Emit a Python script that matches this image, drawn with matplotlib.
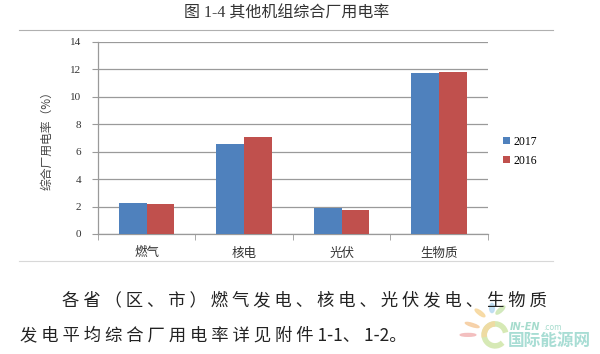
import matplotlib
matplotlib.use("Agg")
import matplotlib.pyplot as plt
import numpy as np
from matplotlib.lines import Line2D
from matplotlib.patches import Arc, Ellipse

categories = ["燃气", "核电", "光伏", "生物质"]
series_names = ["2017", "2016"]
values_2017 = [2.24, 6.58, 1.87, 11.75]
values_2016 = [2.16, 7.09, 1.73, 11.80]
yticks = [0, 2, 4, 6, 8, 10, 12, 14]

FAM = ["Liberation Serif", "Noto Sans CJK SC"]
CJK = ["Noto Sans CJK SC", "Liberation Serif"]
plt.rcParams["font.family"] = FAM

fig = plt.figure(figsize=(6.0, 3.54), dpi=100)
fig.patch.set_facecolor("white")

ax = fig.add_axes([0.163, 0.339, 0.650, 0.543])
x = np.arange(len(categories))
w = 0.286
ax.bar(x - w / 2, values_2017, w, color="#4F81BD", label=series_names[0], zorder=3)
ax.bar(x + w / 2, values_2016, w, color="#C0504D", label=series_names[1], zorder=3)

ax.set_xlim(-0.5, len(categories) - 0.5)
ax.set_ylim(0, 14)
ax.set_yticks(yticks)
ax.set_yticklabels([str(v) for v in yticks], fontsize=8, color="#333333", family=FAM)
ax.yaxis.grid(True, color="#9a9a9a", linewidth=0.9, zorder=0)
ax.set_axisbelow(True)

ax.set_xticks(x)
ax.set_xticklabels(categories, fontsize=9, color="#333333", family=CJK)
ax.tick_params(axis="x", length=0, pad=9)
ax.set_xticks(np.arange(-0.5, len(categories) + 0.5, 1), minor=True)
ax.tick_params(axis="x", which="minor", length=4, color="#9a9a9a", direction="out")
ax.tick_params(axis="y", length=4, color="#9a9a9a", direction="out", pad=8)

for s in ["top", "right"]:
    ax.spines[s].set_visible(False)
for s in ["left", "bottom"]:
    ax.spines[s].set_color("#9a9a9a")
    ax.spines[s].set_linewidth(0.9)

ax.set_ylabel("综合厂用电率（%）", fontsize=8.5, color="#444444", family=CJK, labelpad=12)

leg = fig.legend(loc="upper left", bbox_to_anchor=(0.83, 0.63), frameon=False,
                 prop={"family": FAM, "size": 8.5}, handlelength=0.6, handleheight=0.6,
                 handletextpad=0.3, labelspacing=0.6, borderaxespad=0)

fig.text(0.478, 0.962, "图 1-4 其他机组综合厂用电率", ha="center", va="center",
         fontsize=11.5, color="#333333", family=FAM)

fig.add_artist(Line2D([0.032, 0.922], [0.915, 0.915], color="#b0b0b0", linewidth=0.8))
fig.add_artist(Line2D([0.032, 0.922], [0.262, 0.262], color="#d8d8d8", linewidth=0.8))

fig.text(0.103, 0.153, "各 省 （ 区 、 市 ） 燃 气 发 电 、 核 电 、 光 伏 发 电 、 生 物 质",
         ha="left", va="center", fontsize=12.5, color="#222222", family=CJK)
fig.text(0.033, 0.054, "发 电 平 均 综 合 厂 用 电 率 详 见 附 件 1-1、 1-2。",
         ha="left", va="center", fontsize=12.5, color="#222222", family=CJK)

# watermark logo
fig.add_artist(Arc((0.825, 0.054), 0.036, 0.062, theta1=20, theta2=300,
                   transform=fig.transFigure, color="#cfe6a8", linewidth=4, alpha=0.85))
fig.add_artist(Arc((0.825, 0.054), 0.036, 0.062, theta1=90, theta2=200,
                   transform=fig.transFigure, color="#f3d9a0", linewidth=4, alpha=0.85))
for (cx, cy, col, ang) in [(0.8, 0.116, "#f7d9a0", 35), (0.82, 0.13, "#bcdcf2", 0),
                           (0.834, 0.124, "#cfe8b8", -30), (0.787, 0.082, "#f6cfa4", 60),
                           (0.78, 0.054, "#f3bcbc", 90)]:
    fig.add_artist(Ellipse((cx, cy), 0.008, 0.026, angle=ang, transform=fig.transFigure,
                           color=col, alpha=0.9))
fig.text(0.85, 0.076, "IN-EN", ha="left", va="center", fontsize=7,
         color="#a6dccd", family=["DejaVu Sans"], weight="bold", style="italic")
fig.text(0.905, 0.074, ".com", ha="left", va="center", fontsize=5.5,
         color="#a6dccd", family=["DejaVu Sans"])
fig.text(0.846, 0.038, "国际能源网", ha="left", va="center", fontsize=12,
         color="#a8ddd4", family=CJK, weight="bold")

fig.savefig("out.png", dpi=100, facecolor="white")
